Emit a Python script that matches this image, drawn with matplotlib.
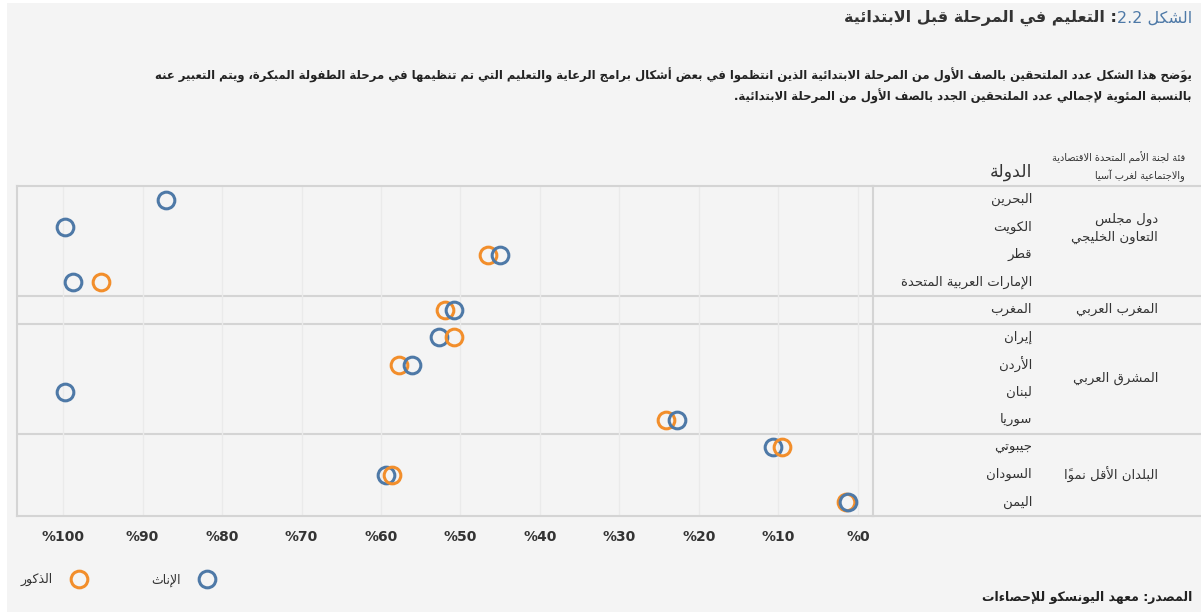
import re

import numpy as np
import matplotlib
matplotlib.use("Agg")
import matplotlib.pyplot as plt
from matplotlib.lines import Line2D
from matplotlib.patches import Rectangle


# --- data -----------------------------------------------------------------
countries = ["البحرين", "الكويت", "قطر", "الإمارات العربية المتحدة",
             "المغرب",
             "إيران", "الأردن", "لبنان", "سوريا",
             "جيبوتي", "السودان", "اليمن"]
regions = ["دول مجلس\nالتعاون الخليجي", "المغرب العربي", "المشرق العربي",
           "البلدان الأقل نمواً"]
region_sizes = [4, 1, 4, 3]

# percent of new grade-1 entrants with ECCE experience
female = [87.0, 99.7, 45.0, 98.8, 50.8, 52.7, 56.1, 99.7, 22.8, 10.7, 59.4, 1.2]
male = [np.nan, np.nan, 46.6, 95.2, 51.9, 50.8, 57.7, np.nan, 24.2, 9.5, 58.6, 1.5]

ticks = list(range(0, 101, 10))
tick_labels = ["%" + str(t) for t in ticks]

title_fig = "الشكل 2.2"
title_text = ": التعليم في المرحلة قبل الابتدائية"
subtitle = ["يوضَح هذا الشكل عدد الملتحقين بالصف الأول من المرحلة الابتدائية الذين انتظموا في بعض أشكال برامج الرعاية والتعليم التي تم تنظيمها في مرحلة الطفولة المبكرة، ويتم التعبير عنه",
            "بالنسبة المئوية لإجمالي عدد الملتحقين الجدد بالصف الأول من المرحلة الابتدائية."]
col_country = "الدولة"
col_region = "فئة لجنة الأمم المتحدة الاقتصادية\nوالاجتماعية لغرب آسيا"
label_female = "الإناث"
label_male = "الذكور"
source = "المصدر: معهد اليونسكو للإحصاءات"


# --- minimal arabic shaping + right-to-left ordering ------------------------
# matplotlib draws glyphs one by one, so letters are mapped to their
# presentation forms by hand and the string is reversed into visual order.
_kinds = "RRRRDRDRDDDDDRRRRDDDDDDDD" + "DDDDDDDRRD"
FORMS = {"\u0621": (0xFE80, "U")}
_code = 0xFE81
for _cp, _k in zip(list(range(0x622, 0x63B)) + list(range(0x641, 0x64B)), _kinds):
    FORMS[chr(_cp)] = (_code, _k)
    _code += 4 if _k == "D" else 2
LAM_ALEF = {"\u0622": 0xFEF5, "\u0623": 0xFEF7, "\u0625": 0xFEF9, "\u0627": 0xFEFB}


def is_mark(c):
    return "\u064b" <= c <= "\u065f" or c == "\u0670"


def kind(c):
    if c is None:
        return None
    if c == "\u0640":
        return "T"
    return FORMS[c][1] if c in FORMS else None


def shape(s):
    out = []
    prev_joins = False
    i, n = 0, len(s)
    while i < n:
        c = s[i]
        if is_mark(c):
            out.append(c)
            i += 1
            continue
        k = kind(c)
        if k is None or k == "U":
            out.append(chr(FORMS[c][0]) if k == "U" else c)
            prev_joins = False
            i += 1
            continue
        j = i + 1
        while j < n and is_mark(s[j]):
            j += 1
        nxt = s[j] if j < n else None
        if c == "\u0644" and nxt in LAM_ALEF:
            out.append(chr(LAM_ALEF[nxt] + (1 if prev_joins else 0)))
            out.extend(s[i + 1:j])
            prev_joins = False
            i = j + 1
            continue
        if k == "T":
            out.append(c)
            prev_joins = True
            i += 1
            continue
        joins_next = k == "D" and kind(nxt) in ("D", "R", "T")
        if prev_joins and joins_next:
            form = 3
        elif prev_joins:
            form = 1
        elif joins_next:
            form = 2
        else:
            form = 0
        if k == "R" and form > 1:
            form = 1
        out.append(chr(FORMS[c][0] + form))
        prev_joins = k == "D"
        i += 1
    return "".join(out)


def reverse_clusters(s):
    groups = []
    for c in s:
        if is_mark(c) and groups:
            groups[-1] += c
        else:
            groups.append(c)
    return "".join(reversed(groups))


NUM = r"[0-9]+(?:[.,][0-9]+)*"


def ar(text):
    lines = []
    for line in text.split("\n"):
        parts = re.split("(" + NUM + ")", shape(line))
        vis = [p if re.fullmatch(NUM, p) else reverse_clusters(p)
               for p in reversed(parts)]
        lines.append("".join(vis))
    return "\n".join(lines)


# --- figure ---------------------------------------------------------------
W, H = 1201, 612
BG = "#f4f4f4"
BLUE = "#4e79a7"
ORANGE = "#f28e2b"
TEXT = "#333333"
RULE = "#d4d4d4"

fig = plt.figure(figsize=(W / 100, H / 100), dpi=100, facecolor="white")
fig.patches.append(Rectangle((7 / W, 0), 1, 1 - 3 / H, transform=fig.transFigure,
                             facecolor=BG, edgecolor="none", zorder=-10))

ax = fig.add_axes([17 / W, 1 - 516 / H, 856 / W, 330 / H])
tax = fig.add_axes([873 / W, 1 - 516 / H, (W - 873) / W, 330 / H])

rows = np.arange(len(countries))
bounds = np.cumsum(region_sizes)[:-1] - 0.5

for a in (ax, tax):
    a.set_facecolor(BG)
    a.set_ylim(len(countries) - 0.5, -0.5)
    for side in ("left", "top", "bottom"):
        a.spines[side].set_color(RULE)
        a.spines[side].set_linewidth(1.5)
    a.spines["right"].set_visible(False)
    for b in bounds:
        a.axhline(b, color=RULE, lw=1.5, zorder=1)
    a.set_yticks([])

# dot plot: 0 % on the right, 100 % on the left
ax.set_xlim(105.8, -1.9)
ax.set_xticks(ticks)
ax.set_xticklabels(tick_labels, fontweight="bold", fontsize=10, color=TEXT)
ax.tick_params(axis="x", length=0, pad=10)
ax.grid(axis="x", color="#eaeaea", lw=1, zorder=0)

for y, f, m in zip(rows, female, male):
    pts = [(v, c) for v, c in ((m, ORANGE), (f, BLUE)) if not np.isnan(v)]
    # smaller value drawn last so it sits on top
    for v, c in sorted(pts, key=lambda p: -p[0]):
        ax.plot(v, y, "o", ms=12, mfc="none", mec=c, mew=2.2, zorder=3)

# row header table
tax.set_xlim(0, 1)
tax.set_xticks([])
for y, name in zip(rows, countries):
    tax.text(0.485, y, ar(name), ha="right", va="center", fontsize=9.5, color=TEXT)

start = 0
for name, size in zip(regions, region_sizes):
    y_mid = start + (size - 1) / 2 - 0.45 * name.count("\n")
    tax.text(0.869, y_mid, ar(name), ha="right", va="center",
             fontsize=9.5, color=TEXT, linespacing=1.5)
    start += size

tax.text(0.485, -1.0, ar(col_country), ha="right", va="center", fontsize=12.5,
         color=TEXT, clip_on=False)
tax.text(0.951, -1.2, ar(col_region), ha="right", va="center", fontsize=7,
         color=TEXT, clip_on=False, linespacing=1.6)

# title: figure number in blue, rest in dark grey
t1 = fig.text(1192 / W, 1 - 18 / H, ar(title_fig), ha="right", va="center",
              fontsize=11.5, color=BLUE)
fig.canvas.draw()
bb = t1.get_window_extent()
fig.text(bb.x0 / W, 1 - 18 / H, ar(title_text), ha="right", va="center",
         fontsize=11.5, color=TEXT, fontweight="bold")

for k, line in enumerate(subtitle):
    fig.text(1192 / W, 1 - (75 + 21 * k) / H, ar(line), ha="right", va="center",
             fontsize=8.35, color="#222222", fontweight="bold")

# legend, marker to the right of the label
handles = [Line2D([], [], ls="", marker="o", ms=12, mfc="none", mec=ORANGE,
                  mew=2.2, label=ar(label_male)),
           Line2D([], [], ls="", marker="o", ms=12, mfc="none", mec=BLUE,
                  mew=2.2, label=ar(label_female))]
fig.legend(handles=handles, ncol=2, markerfirst=False, frameon=False,
           loc="center left", bbox_to_anchor=(9 / W, 1 - 580 / H),
           fontsize=9, columnspacing=4.8, handletextpad=1.1, labelcolor=TEXT)

fig.text(1192 / W, 1 - 597 / H, ar(source), ha="right", va="center",
         fontsize=9, color="#222222", fontweight="bold")

fig.savefig("out.png", dpi=100, facecolor=fig.get_facecolor())
